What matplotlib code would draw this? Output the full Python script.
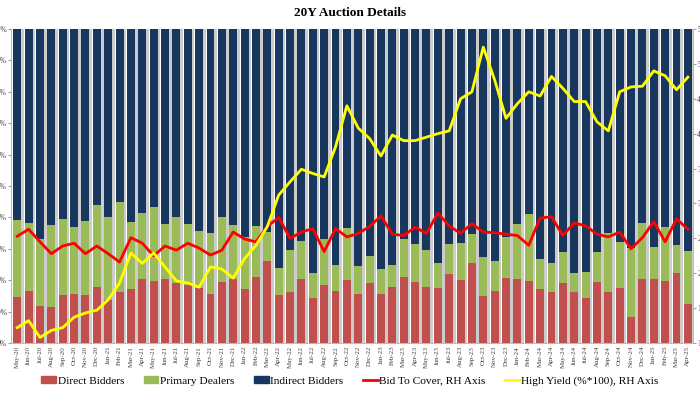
import matplotlib
matplotlib.use("Agg")
import matplotlib.pyplot as plt
import numpy as np
from matplotlib.patches import Patch
from matplotlib.lines import Line2D

months = ["May-20","Jun-20","Jul-20","Aug-20","Sep-20","Oct-20","Nov-20","Dec-20",
          "Jan-21","Feb-21","Mar-21","Apr-21","May-21","Jun-21","Jul-21","Aug-21","Sep-21","Oct-21","Nov-21","Dec-21",
          "Jan-22","Feb-22","Mar-22","Apr-22","May-22","Jun-22","Jul-22","Aug-22","Sep-22","Oct-22","Nov-22","Dec-22",
          "Jan-23","Feb-23","Mar-23","Apr-23","May-23","Jun-23","Jul-23","Aug-23","Sep-23","Oct-23","Nov-23","Dec-23",
          "Jan-24","Feb-24","Mar-24","Apr-24","May-24","Jun-24","Jul-24","Aug-24","Sep-24","Oct-24","Nov-24","Dec-24",
          "Jan-25","Feb-25","Mar-25","Apr-25"]

direct = [14.7,16.6,11.8,11.4,15.3,15.6,15.3,17.7,
          13.7,16.2,17.1,20.3,19.7,20.4,19.2,18.5,17.4,15.6,19.3,20.5,
          17.1,20.9,26.1,15.3,16.3,20.3,14.2,18.5,16.7,20.1,15.5,19.0,
          15.6,17.9,21.1,19.3,17.9,17.6,21.9,20.1,25.4,15.1,16.6,20.6,
          20.4,19.8,17.2,16.1,19.0,16.3,14.4,19.3,16.1,17.6,8.2,20.3,
          20.3,19.7,22.4,12.4]

# cumulative top of primary dealers (direct + primary)
dir_plus_primary = [39.2,38.3,33.0,37.5,39.4,37.0,38.9,43.9,
                    40.2,45.0,38.6,41.3,43.2,37.9,40.0,37.9,35.8,35.1,40.0,37.5,
                    33.9,37.3,35.5,23.9,29.6,32.6,22.2,33.0,24.8,36.5,24.6,27.7,
                    23.6,24.7,33.0,31.4,29.6,25.4,31.4,31.7,34.7,27.3,26.1,33.7,
                    37.9,41.1,26.7,25.4,29.1,22.2,22.7,29.1,35.1,32.1,30.2,38.1,
                    30.7,37.0,31.2,29.4]

primary = [round(t - d, 1) for t, d in zip(dir_plus_primary, direct)]
indirect = [round(100 - t, 1) for t in dir_plus_primary]

bid_to_cover = [2.53,2.63,2.45,2.28,2.39,2.43,2.28,2.39,
                2.28,2.16,2.51,2.43,2.25,2.39,2.33,2.43,2.36,2.26,2.33,2.59,
                2.49,2.45,2.67,2.80,2.50,2.59,2.64,2.31,2.64,2.52,2.57,2.67,
                2.82,2.56,2.54,2.66,2.57,2.86,2.68,2.57,2.71,2.59,2.58,2.56,
                2.54,2.40,2.79,2.81,2.54,2.72,2.68,2.56,2.52,2.59,2.35,2.51,
                2.74,2.45,2.78,2.63]

high_yield = [1.22,1.32,1.08,1.18,1.22,1.37,1.43,1.47,
              1.62,1.86,2.29,2.14,2.29,2.09,1.89,1.86,1.80,2.09,2.06,1.93,
              2.21,2.40,2.67,3.12,3.31,3.49,3.43,3.38,3.81,4.40,4.08,3.93,
              3.68,3.98,3.90,3.90,3.95,4.00,4.04,4.50,4.60,5.24,4.77,4.22,
              4.43,4.60,4.54,4.82,4.65,4.46,4.46,4.17,4.04,4.60,4.67,4.68,
              4.90,4.83,4.63,4.81]

left_ticks = [0,10,20,30,40,50,60,70,80,90,100]
right_ticks = [1.0,1.5,2.0,2.5,3.0,3.5,4.0,4.5,5.0,5.5]

c_direct = "#C0504D"
c_primary = "#9BBB59"
c_indirect = "#17375E"
c_shadow = "#CCCCCC"
c_btc = "#FF0000"
c_hy = "#FFFF00"

serif = ["Liberation Serif", "DejaVu Serif"]
plt.rcParams["font.family"] = serif

fig = plt.figure(figsize=(7.0, 3.94), dpi=100)
ax = fig.add_axes([11/700, 51/394, 682/700, 314/394])
x = np.arange(len(months))
w = 0.7
tot = np.array(direct) + np.array(primary) + np.array(indirect)

# shadow
ax.bar(x + 0.24, tot, width=w, color=c_shadow, zorder=1, linewidth=0)
ax.bar(x, direct, width=w, color=c_direct, zorder=2, linewidth=0)
ax.bar(x, primary, width=w, bottom=direct, color=c_primary, zorder=2, linewidth=0)
ax.bar(x, indirect, width=w, bottom=np.array(direct) + np.array(primary), color=c_indirect, zorder=2, linewidth=0)

ax.set_xlim(-0.55, len(months) - 0.55)
ax.set_ylim(0, 100)
ax.set_yticks(left_ticks)
ax.set_yticklabels([f"{t}%" for t in left_ticks], fontsize=5.5, color="#404040")
ax.set_xticks(x)
ax.set_xticklabels(months, rotation=90, fontsize=5, color="#404040")
ax.tick_params(axis="x", length=0, pad=2)
ax.tick_params(axis="y", length=2, pad=1, color="#A0A0A0")
for s in ["top", "right"]:
    ax.spines[s].set_visible(False)
ax.spines["left"].set_color("#B0B0B0")
ax.spines["bottom"].set_color("#B0B0B0")
ax.spines["left"].set_linewidth(0.6)
ax.spines["bottom"].set_linewidth(0.6)

ax2 = ax.twinx()
ax2.plot(x, bid_to_cover, color=c_btc, lw=2.0, zorder=5)
ax2.plot(x, high_yield, color=c_hy, lw=2.0, zorder=5)
ax2.set_ylim(1.0, 5.5)
ax2.set_yticks(right_ticks)
ax2.set_yticklabels([f"{t:.1f}" for t in right_ticks], fontsize=5.5, color="#404040")
ax2.tick_params(axis="y", length=2, pad=1, color="#A0A0A0")
for s in ["top", "left", "bottom"]:
    ax2.spines[s].set_visible(False)
ax2.spines["right"].set_color("#B0B0B0")
ax2.spines["right"].set_linewidth(0.6)

fig.text(0.5, 1 - 13/394, "20Y Auction Details", ha="center", va="center",
         fontsize=9.5, fontweight="bold", family=serif)

handles = [Patch(color=c_direct), Patch(color=c_primary), Patch(color=c_indirect),
           Line2D([], [], color=c_btc, lw=2), Line2D([], [], color=c_hy, lw=2)]
labels = ["Direct Bidders", "Primary Dealers", "Indirect Bidders",
          "Bid To Cover, RH Axis", "High Yield (%*100), RH Axis"]
fig.legend(handles, labels, loc="center", bbox_to_anchor=(0.5, 1 - 381/394), ncol=5,
           frameon=False, fontsize=8.2, handlelength=1.3, handleheight=0.6,
           handletextpad=0.15, columnspacing=1.7)

fig.savefig("out.png", dpi=100)
